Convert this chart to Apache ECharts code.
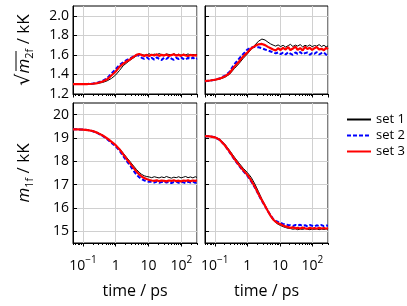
<!DOCTYPE html>
<html><head><meta charset="utf-8">
<script src="https://cdn.jsdelivr.net/npm/echarts@6/dist/echarts.min.js"></script>
<style>html,body{margin:0;padding:0;background:#fff}#c{width:407px;height:306px}</style>
</head><body><div id="c"></div>
<script>
// ---------- data ----------
const seriesNames = ['set 1', 'set 2', 'set 3'];
const time = [0.05, 0.07, 0.1, 0.14, 0.2, 0.28, 0.4, 0.55, 0.75, 1.0, 1.3, 1.7, 2.2, 2.8, 3.5, 4.3, 5.2, 6.2, 7.4, 8.8,
  10.5, 12.5, 15, 18, 21, 25, 30, 35, 42, 50, 59, 70, 83, 98, 115, 135, 160, 190, 225, 265, 300];

// top-left: sqrt(m2f) / kK
const tlSet1 = [1.300, 1.300, 1.300, 1.301, 1.303, 1.308, 1.318, 1.335, 1.360, 1.395, 1.440, 1.490, 1.520, 1.548, 1.570, 1.590, 1.602, 1.605, 1.596, 1.600,
  1.612, 1.598, 1.608, 1.600, 1.614, 1.602, 1.596, 1.610, 1.604, 1.598, 1.612, 1.600, 1.607, 1.596, 1.606, 1.600, 1.610, 1.597, 1.605, 1.600, 1.604];
const tlSet2 = [1.301, 1.301, 1.302, 1.303, 1.307, 1.316, 1.335, 1.362, 1.410, 1.455, 1.495, 1.525, 1.548, 1.565, 1.585, 1.598, 1.590, 1.570, 1.560, 1.575,
  1.555, 1.570, 1.552, 1.575, 1.560, 1.548, 1.572, 1.558, 1.578, 1.562, 1.550, 1.570, 1.558, 1.575, 1.560, 1.552, 1.570, 1.558, 1.573, 1.555, 1.565];
const tlSet3 = [1.302, 1.302, 1.301, 1.302, 1.305, 1.312, 1.328, 1.350, 1.392, 1.430, 1.478, 1.510, 1.535, 1.556, 1.580, 1.600, 1.610, 1.598, 1.590, 1.600,
  1.588, 1.602, 1.594, 1.606, 1.590, 1.600, 1.593, 1.604, 1.588, 1.598, 1.606, 1.592, 1.600, 1.590, 1.603, 1.595, 1.588, 1.600, 1.593, 1.598, 1.590];

// top-right: sqrt(m2f) / kK
const trSet1 = [1.330, 1.335, 1.342, 1.352, 1.370, 1.400, 1.460, 1.510, 1.565, 1.610, 1.655, 1.700, 1.740, 1.762, 1.752, 1.730, 1.712, 1.700, 1.690, 1.702,
  1.685, 1.698, 1.680, 1.695, 1.708, 1.686, 1.700, 1.690, 1.705, 1.682, 1.698, 1.688, 1.702, 1.684, 1.696, 1.690, 1.705, 1.686, 1.698, 1.682, 1.692];
const trSet2 = [1.331, 1.337, 1.346, 1.360, 1.385, 1.425, 1.505, 1.560, 1.610, 1.655, 1.675, 1.682, 1.678, 1.668, 1.655, 1.645, 1.635, 1.625, 1.615, 1.625,
  1.608, 1.622, 1.605, 1.628, 1.612, 1.600, 1.625, 1.610, 1.630, 1.606, 1.618, 1.625, 1.602, 1.620, 1.612, 1.628, 1.604, 1.618, 1.625, 1.600, 1.615];
const trSet3 = [1.332, 1.338, 1.346, 1.357, 1.378, 1.412, 1.480, 1.530, 1.585, 1.625, 1.665, 1.690, 1.708, 1.712, 1.700, 1.682, 1.668, 1.655, 1.645, 1.668,
  1.650, 1.672, 1.655, 1.680, 1.648, 1.665, 1.685, 1.652, 1.670, 1.645, 1.682, 1.660, 1.672, 1.650, 1.668, 1.680, 1.655, 1.662, 1.648, 1.672, 1.658];

// bottom-left: m1f / kK
const blSet1 = [19.37, 19.37, 19.36, 19.34, 19.30, 19.23, 19.12, 18.99, 18.84, 18.70, 18.55, 18.35, 18.15, 17.97, 17.80, 17.65, 17.53, 17.44, 17.38, 17.35,
  17.33, 17.30, 17.34, 17.31, 17.29, 17.33, 17.30, 17.35, 17.31, 17.28, 17.32, 17.30, 17.34, 17.29, 17.32, 17.35, 17.30, 17.33, 17.29, 17.34, 17.31];
const blSet2 = [19.37, 19.37, 19.36, 19.34, 19.29, 19.21, 19.09, 18.95, 18.79, 18.64, 18.46, 18.22, 18.00, 17.80, 17.60, 17.43, 17.32, 17.24, 17.18, 17.15,
  17.12, 17.12, 17.09, 17.13, 17.08, 17.11, 17.14, 17.09, 17.12, 17.07, 17.11, 17.13, 17.08, 17.12, 17.10, 17.07, 17.12, 17.09, 17.13, 17.08, 17.11];
const blSet3 = [19.37, 19.37, 19.36, 19.34, 19.30, 19.22, 19.11, 18.98, 18.83, 18.69, 18.52, 18.30, 18.08, 17.90, 17.72, 17.56, 17.44, 17.35, 17.28, 17.24,
  17.20, 17.18, 17.16, 17.19, 17.15, 17.18, 17.16, 17.14, 17.18, 17.16, 17.19, 17.15, 17.17, 17.14, 17.18, 17.16, 17.19, 17.15, 17.18, 17.16, 17.19];

// bottom-right: m1f / kK
const brSet1 = [19.08, 19.07, 19.04, 18.95, 18.75, 18.48, 18.18, 17.93, 17.70, 17.52, 17.32, 17.03, 16.70, 16.38, 16.12, 15.87, 15.65, 15.48, 15.38, 15.30,
  15.25, 15.20, 15.16, 15.13, 15.12, 15.09, 15.11, 15.07, 15.10, 15.08, 15.12, 15.09, 15.07, 15.10, 15.08, 15.11, 15.07, 15.10, 15.08, 15.11, 15.09];
const brSet2 = [19.08, 19.07, 19.03, 18.92, 18.70, 18.40, 18.08, 17.82, 17.58, 17.38, 17.15, 16.88, 16.58, 16.30, 16.08, 15.86, 15.68, 15.53, 15.45, 15.40,
  15.36, 15.32, 15.29, 15.27, 15.26, 15.23, 15.27, 15.24, 15.28, 15.23, 15.26, 15.22, 15.27, 15.24, 15.21, 15.26, 15.23, 15.27, 15.22, 15.25, 15.24];
const brSet3 = [19.08, 19.07, 19.03, 18.93, 18.70, 18.43, 18.11, 17.85, 17.62, 17.42, 17.19, 16.91, 16.60, 16.33, 16.09, 15.86, 15.66, 15.51, 15.41, 15.35,
  15.30, 15.25, 15.21, 15.18, 15.15, 15.17, 15.13, 15.15, 15.12, 15.16, 15.13, 15.11, 15.15, 15.12, 15.14, 15.11, 15.15, 15.12, 15.14, 15.11, 15.14];

// ticks
const xTickValues = [0.1, 1, 10, 100];
const xTickBase = ['10', '1', '10', '10'];
const xTickExp = ['\u22121', '', '', '2'];
const xMinorTicks = [0.05, 0.06, 0.07, 0.08, 0.09, 0.2, 0.3, 0.4, 0.5, 0.6, 0.7, 0.8, 0.9,
  2, 3, 4, 5, 6, 7, 8, 9, 20, 30, 40, 50, 60, 70, 80, 90, 200, 300];
const yTopTicks = [1.2, 1.4, 1.6, 1.8, 2.0];
const yBottomTicks = [15, 16, 17, 18, 19, 20];

// ---------- chart ----------
const FONT = "'Open Sans', 'DejaVu Sans', sans-serif";
const panels = [
  {sets: [tlSet1, tlSet2, tlSet3], grid: {left: 73, top: 6, width: 124, height: 88}, yMin: 1.2, yMax: 2.1, yTicks: yTopTicks, dec: 1, showY: true, showX: false,
   yName: '{sq|\u221A}{it|m}{sub|2f}{n| / kK}'},
  {sets: [trSet1, trSet2, trSet3], grid: {left: 205, top: 6, width: 123, height: 88}, yMin: 1.2, yMax: 2.1, yTicks: yTopTicks, dec: 1, showY: false, showX: false},
  {sets: [blSet1, blSet2, blSet3], grid: {left: 73, top: 103, width: 124, height: 140}, yMin: 14.5, yMax: 20.5, yTicks: yBottomTicks, dec: 0, showY: true, showX: true,
   yName: '{it|m}{sub|1f}{n| / kK}'},
  {sets: [brSet1, brSet2, brSet3], grid: {left: 205, top: 103, width: 123, height: 140}, yMin: 14.5, yMax: 20.5, yTicks: yBottomTicks, dec: 0, showY: false, showX: true}
];
const lineStyles = [
  {color: '#000000', width: 1, type: 'solid'},
  {color: '#0000ff', width: 2, type: [4, 2]},
  {color: '#ff0000', width: 2.2, type: 'solid'}
];
const gridLineColor = '#d0d0d0';
const nameRich = {
  sq: {fontSize: 19, fontFamily: "'DejaVu Sans'", color: '#000'},
  it: {fontSize: 17, fontStyle: 'italic', fontFamily: FONT, color: '#000', lineHeight: 22, verticalAlign: 'middle'},
  sub: {fontSize: 11, fontFamily: FONT, color: '#000', lineHeight: 12, verticalAlign: 'bottom'},
  n: {fontSize: 17, fontFamily: FONT, color: '#000', lineHeight: 22}
};

const grids = [], xAxes = [], yAxes = [], series = [];
panels.forEach((p, i) => {
  grids.push(Object.assign({show: true, borderColor: '#000', borderWidth: 1, backgroundColor: 'transparent'}, p.grid));
  xAxes.push({
    type: 'log', logBase: 10, gridIndex: i, min: 0.05, max: 300,
    name: p.showX ? 'time / ps' : '', nameLocation: 'middle', nameGap: 40,
    nameTextStyle: {fontSize: 16, fontFamily: FONT, color: '#000'},
    axisLine: {show: true, onZero: false, lineStyle: {color: '#000', width: 1}},
    axisTick: {show: true, inside: false, length: 3.5, lineStyle: {color: '#000', width: 1}},
    axisLabel: {
      show: p.showX, margin: 12, fontSize: 14, fontFamily: FONT, color: '#000',
      showMinLabel: false, showMaxLabel: false,
      formatter: v => {
        const e = Math.log10(v);
        for (let k = 0; k < xTickValues.length; k++) {
          if (Math.abs(e - Math.log10(xTickValues[k])) < 1e-6) {
            return '{b|' + xTickBase[k] + '}' + (xTickExp[k] ? '{s|' + xTickExp[k] + '}' : '');
          }
        }
        return '';
      },
      rich: {
        b: {fontSize: 14, fontFamily: FONT, color: '#000', lineHeight: 18, verticalAlign: 'bottom'},
        s: {fontSize: 10, fontFamily: FONT, color: '#000', lineHeight: 10, verticalAlign: 'top'}
      }
    },
    splitLine: {show: true, lineStyle: {color: gridLineColor, width: 1}},
    minorTick: {show: false}
  });
  yAxes.push({
    type: 'value', gridIndex: i, min: p.yMin, max: p.yMax,
    name: p.yName || '', nameLocation: 'middle', nameRotate: 90, nameGap: 38,
    nameTextStyle: {fontSize: 17, fontFamily: FONT, color: '#000', rich: nameRich},
    axisLine: {show: true, onZero: false, lineStyle: {color: '#000', width: 1}},
    axisTick: {show: true, inside: true, length: 4, customValues: p.yTicks, lineStyle: {color: '#000', width: 1}},
    axisLabel: {show: p.showY, customValues: p.yTicks, margin: 4, fontSize: 14, fontFamily: FONT, color: '#000',
      formatter: v => v.toFixed(p.dec)},
    splitLine: {show: true, lineStyle: {color: gridLineColor, width: 1}}
  });
  p.sets.forEach((arr, k) => {
    series.push({
      name: seriesNames[k], type: 'line', xAxisIndex: i, yAxisIndex: i,
      data: time.map((t, j) => [t, arr[j]]),
      symbol: 'none', showSymbol: false, smooth: false,
      lineStyle: lineStyles[k], itemStyle: {color: lineStyles[k].color},
      z: 2 + k, animation: false
    });
  });
});
// minor ticks on log x axes (overlay axes sharing each grid)
panels.forEach((p, i) => {
  xAxes.push({
    type: 'value', gridIndex: i, min: Math.log10(0.05), max: Math.log10(300), position: 'bottom',
    axisLine: {show: false, onZero: false}, axisLabel: {show: false}, splitLine: {show: false},
    axisTick: {show: true, inside: false, length: 2, customValues: xMinorTicks.map(v => Math.log10(v)), lineStyle: {color: '#000', width: 1}}
  });
});

const chart = echarts.init(document.getElementById('c'), null, {renderer: 'canvas'});
chart.setOption({
  animation: false,
  backgroundColor: '#fff',
  grid: grids, xAxis: xAxes, yAxis: yAxes, series: series,
  legend: {
    data: seriesNames, orient: 'vertical', left: 341, top: 108,
    itemWidth: 24, itemHeight: 14, itemGap: 3,
    itemStyle: {opacity: 0},
    textStyle: {fontSize: 13, fontFamily: FONT, color: '#000'}
  },
  graphic: [
    {type: 'line', shape: {x1: 16, y1: 51, x2: 16, y2: 71}, style: {stroke: '#000', lineWidth: 1}, silent: true}
  ]
});
</script></body></html>
